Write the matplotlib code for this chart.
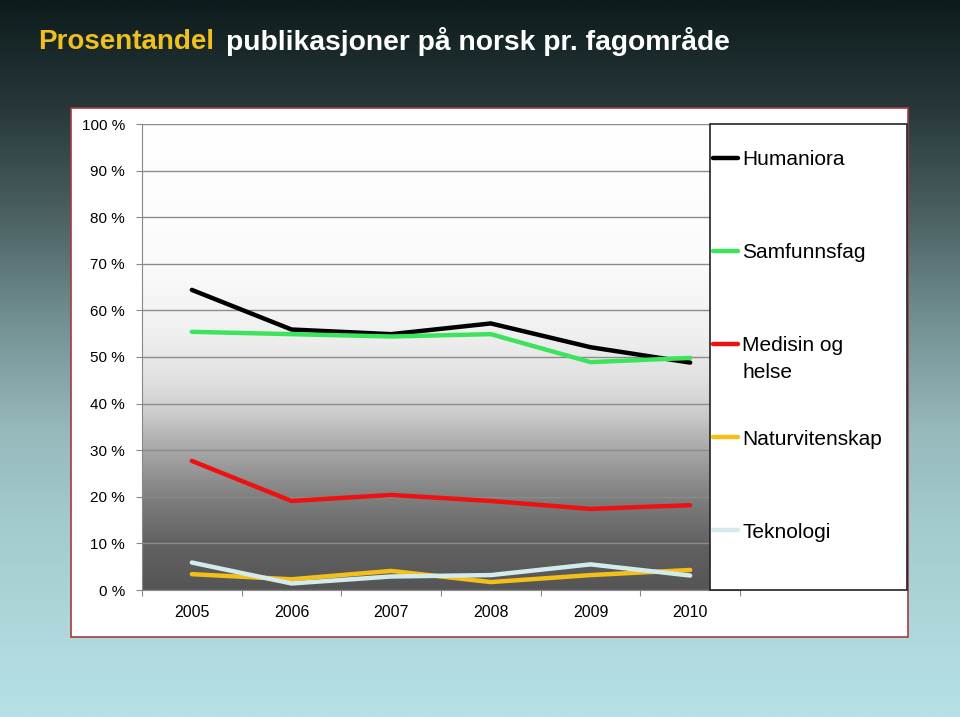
import numpy as np
import matplotlib
matplotlib.use('Agg')
import matplotlib.pyplot as plt
from matplotlib.colors import LinearSegmentedColormap
from matplotlib.patches import Rectangle

years = ['2005', '2006', '2007', '2008', '2009', '2010']
humaniora = [64.4, 55.9, 54.9, 57.2, 52.1, 48.8]
samfunnsfag = [55.4, 54.9, 54.4, 54.9, 48.9, 49.8]
medisin = [27.7, 19.1, 20.4, 19.1, 17.4, 18.2]
naturvitenskap = [3.4, 2.3, 4.1, 1.7, 3.2, 4.3]
teknologi = [5.9, 1.4, 2.9, 3.2, 5.5, 3.1]

# legend label for medisin is split: second line drawn as separate text
series = [
    ('Humaniora', humaniora, '#000000'),
    ('Samfunnsfag', samfunnsfag, '#3ee35c'),
    ('Medisin og', medisin, '#ee1111'),
    ('Naturvitenskap', naturvitenskap, '#f5bf1a'),
    ('Teknologi', teknologi, '#d4ebee'),
]

plt.rcParams['font.family'] = 'Liberation Sans'

W, H = 960, 717
fig = plt.figure(figsize=(W / 100, H / 100), dpi=100)

# slide background
bg = fig.add_axes([0, 0, 1, 1], zorder=-10)
bg_cmap = LinearSegmentedColormap.from_list('bg', [
    (0.0, (13/255, 27/255, 28/255)),
    (0.15, (40/255, 56/255, 58/255)),
    (0.3, (75/255, 97/255, 98/255)),
    (0.45, (115/255, 145/255, 147/255)),
    (0.6, (150/255, 185/255, 188/255)),
    (0.75, (165/255, 205/255, 208/255)),
    (1.0, (182/255, 225/255, 229/255)),
])
bg.imshow(np.linspace(0, 1, 256).reshape(-1, 1), cmap=bg_cmap, aspect='auto',
          extent=[0, 1, 0, 1], origin='upper')
bg.set_xlim(0, 1)
bg.set_ylim(0, 1)
bg.axis('off')

# white chart box with red border
fig.patches.append(Rectangle((71 / W, 1 - 637 / H), (908 - 71) / W, (637 - 108) / H,
                             transform=fig.transFigure, facecolor='white',
                             edgecolor='#a83a40', linewidth=1.2, zorder=-5))

# title
fig.text(38 / W, 1 - 42 / H, 'Prosentandel', color='#f0c020', fontsize=20,
         fontweight='bold', va='center')
fig.text(226 / W, 1 - 42 / H, 'publikasjoner på norsk pr. fagområde', color='white',
         fontsize=20.3, fontweight='bold', va='center')

ax = fig.add_axes([142 / W, 1 - 590 / H, 598 / W, 466 / H])
plot_cmap = LinearSegmentedColormap.from_list('plot', [
    (0.0, '#ffffff'), (0.3, '#fbfbfb'), (0.45, '#f0f0f0'), (0.55, '#e0e0e0'),
    (0.62, '#cccccc'), (0.7, '#a8a8a8'), (0.8, '#808080'), (0.9, '#626262'),
    (1.0, '#555555')])
ax.imshow(np.linspace(0, 1, 256).reshape(-1, 1), cmap=plot_cmap, aspect='auto',
          extent=[0, 1, 0, 1], origin='upper', transform=ax.transAxes, zorder=-1)

x = np.arange(len(years))
for label, vals, color in series:
    ax.plot(x, vals, color=color, linewidth=3.2, label=label,
            solid_capstyle='round', solid_joinstyle='miter', zorder=3)

ax.set_xlim(-0.5, len(years) - 0.5)
ax.set_ylim(0, 100)
ax.set_yticks(np.arange(0, 101, 10))
ax.set_yticklabels(['%d %%' % v for v in range(0, 101, 10)])
ax.set_xticks(np.arange(-0.5, len(years), 1))
ax.set_xticklabels([])
ax.set_xticks(x, minor=True)
ax.set_xticklabels(years, minor=True)
ax.tick_params(axis='x', which='major', length=4.3, color='#888888', direction='out')
ax.tick_params(axis='x', which='minor', length=0, pad=10.5, labelsize=11.5)
ax.tick_params(axis='y', length=4.3, color='#888888', pad=8, labelsize=11)
ax.grid(axis='y', color='#8c8c8c', linewidth=1)
ax.set_axisbelow(True)
for s in ['top', 'right']:
    ax.spines[s].set_visible(False)
for s in ['left', 'bottom']:
    ax.spines[s].set_color('#888888')

# legend box
fig.patches.append(Rectangle((710 / W, 1 - 590 / H), (907 - 710) / W, 466 / H,
                             transform=fig.transFigure, facecolor='white',
                             edgecolor='#222222', linewidth=1.2, zorder=2))
handles, labels = ax.get_legend_handles_labels()
fig.legend(handles, labels, loc='upper left', bbox_to_anchor=(687 / W, 1 - 124 / H),
           frameon=False, fontsize=15, handlelength=1.2, handletextpad=0.2,
           labelspacing=3.56, borderpad=1.25, borderaxespad=0)
fig.text(743 / W, 1 - 372 / H, 'helse', fontsize=15, va='center', zorder=6)

fig.savefig('out.png', dpi=100)
